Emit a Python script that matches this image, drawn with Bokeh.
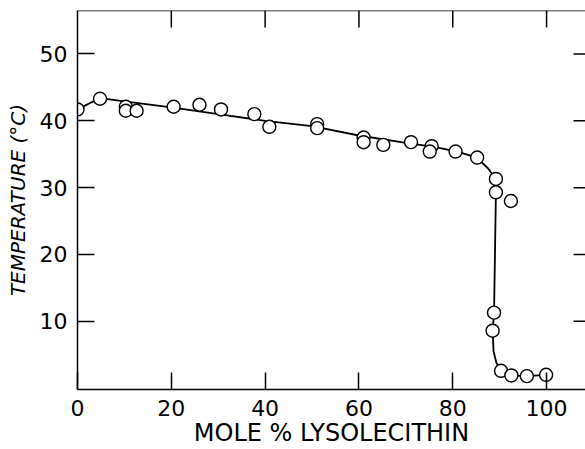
from math import pi
from bokeh.plotting import figure
from bokeh.models import Range1d, FixedTicker, LinearAxis, ColumnDataSource, Span
from bokeh.embed import file_html
from bokeh.resources import INLINE

# Measured points (mole % lysolecithin, temperature °C)
mole_pct = [0, 4.8, 10.3, 10.3, 12.6, 20.5, 26.0, 30.6, 37.7, 40.9,
            51.1, 51.1, 61.0, 61.0, 65.2, 71.1, 75.5, 75.1, 80.6, 85.2,
            89.2, 89.2, 92.4, 88.8, 88.5, 90.3, 92.5, 95.8, 99.9]
temperature = [41.7, 43.3, 42.1, 41.5, 41.5, 42.1, 42.4, 41.7, 41.0, 39.1,
               39.5, 38.9, 37.5, 36.8, 36.4, 36.8, 36.2, 35.4, 35.4, 34.5,
               31.3, 29.3, 28.0, 11.3, 8.6, 2.6, 1.9, 1.8, 2.0]

# Hand-drawn fitted curve
curve_x = [0, 4.8, 10, 20, 30, 40, 50, 60, 70, 76, 81, 85.1, 87.5,
           89.2, 89.2, 89.0, 88.8, 88.5, 88.7, 89.3, 90.3, 92.5, 95.8, 99.9]
curve_y = [41.7, 43.4, 42.9, 42.0, 41.0, 40.0, 39.2, 37.8, 36.7, 36.1, 35.4, 34.5, 32.9,
           31.3, 29.3, 20.0, 11.3, 8.6, 5.5, 3.8, 2.6, 1.9, 1.8, 2.0]

x_ticks = [0, 20, 40, 60, 80, 100]
y_ticks = [10, 20, 30, 40, 50]
x_label = "MOLE % LYSOLECITHIN"
y_label = "TEMPERATURE (°C)"

X_START, X_END = 0, 108.3
Y_START, Y_END = -0.2, 56.5
FONT = "DejaVu Sans"

p = figure(width=585, height=449, output_backend="svg", toolbar_location=None,
           x_range=Range1d(X_START, X_END), y_range=Range1d(Y_START, Y_END),
           x_axis_location=None, y_axis_location=None,
           min_border_left=77, min_border_right=0, min_border_top=10, min_border_bottom=60)
p.outline_line_color = None
p.grid.visible = False
p.background_fill_color = "white"
p.border_fill_color = "white"

def style(ax, ticks):
    ax.ticker = FixedTicker(ticks=ticks)
    ax.major_tick_in = 17
    ax.major_tick_out = 0
    ax.minor_tick_line_color = None
    ax.major_tick_line_width = 1.5
    ax.major_tick_line_color = "black"
    ax.axis_line_width = 1.5
    ax.axis_line_color = "black"
    ax.major_label_text_font = FONT
    ax.major_label_text_font_size = "22px"
    ax.major_label_text_color = "black"
    ax.axis_label_text_font = FONT
    ax.axis_label_text_color = "black"

xb = LinearAxis(axis_label=x_label)
style(xb, x_ticks)
xb.major_label_standoff = 10
xb.axis_label_standoff = 0
xb.axis_label_text_font_size = "24px"
xb.axis_label_text_font_style = "normal"
p.add_layout(xb, "below")

yl = LinearAxis(axis_label=y_label)
style(yl, y_ticks)
yl.major_label_standoff = 10
yl.axis_label_standoff = 7
yl.axis_label_text_font_size = "20px"
yl.axis_label_text_font_style = "italic"
p.add_layout(yl, "left")

# top spine and inward ticks on top / right
p.add_layout(Span(location=Y_END, dimension="width", line_color="black", line_width=1.5))
p.ray(x=x_ticks[1:], y=[Y_END] * len(x_ticks[1:]), length=17, length_units="screen",
      angle=-pi / 2, line_color="black", line_width=1.5)
p.ray(x=[X_END] * len(y_ticks), y=y_ticks, length=12, length_units="screen",
      angle=pi, line_color="black", line_width=1.5)

p.line(curve_x, curve_y, line_color="black", line_width=1.8)
src = ColumnDataSource(dict(x=mole_pct, y=temperature))
p.scatter("x", "y", source=src, size=13, fill_color="white",
          line_color="black", line_width=1.4)

open("out.html", "w").write(file_html(p, INLINE))
